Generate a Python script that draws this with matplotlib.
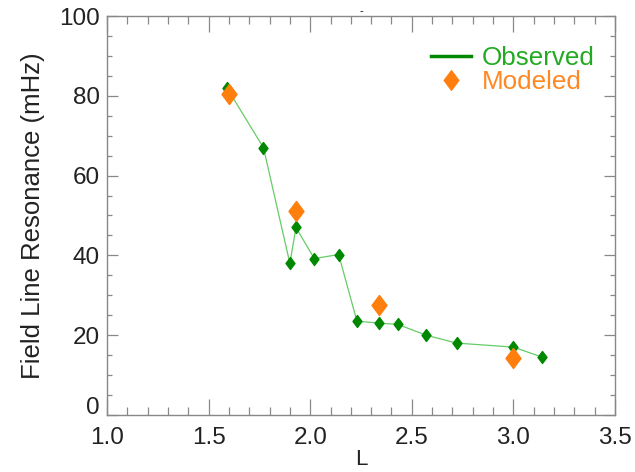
import matplotlib
matplotlib.use("Agg")
import matplotlib.pyplot as plt
from matplotlib.path import Path
from matplotlib.lines import Line2D
from matplotlib.transforms import ScaledTranslation

obs_L = [1.59, 1.77, 1.90, 1.93, 2.02, 2.14, 2.23, 2.34, 2.43, 2.57, 2.72, 3.00, 3.14]
obs_f = [82.0, 67.0, 38.0, 47.0, 39.2, 40.2, 23.5, 23.0, 22.7, 20.0, 18.0, 17.0, 14.5]
mod_L = [1.60, 1.93, 2.34, 3.00]
mod_f = [80.5, 51.0, 27.5, 14.3]
xticks = [1.0, 1.5, 2.0, 2.5, 3.0, 3.5]
yticks = [0, 20, 40, 60, 80, 100]

plt.rcParams['font.family'] = ['Liberation Sans', 'DejaVu Sans']

diamond = Path([(0, 1), (0.75, 0), (0, -1), (-0.75, 0), (0, 1)],
               [Path.MOVETO, Path.LINETO, Path.LINETO, Path.LINETO, Path.CLOSEPOLY])

fig = plt.figure(figsize=(6.35, 4.72), dpi=100)
ax = fig.add_axes([0.1685, 0.121, 0.8, 0.845])

ax.plot(obs_L, obs_f, color='#66cc66', lw=0.9, zorder=2)
ax.plot(obs_L, obs_f, ls='none', marker=diamond, ms=8.6, color='#008800',
        mec='#008800', zorder=3)
ax.plot(mod_L, mod_f, ls='none', marker=diamond, ms=14.4, color='#ff7f0e',
        mec='#ff7f0e', zorder=4)

ax.set_xlim(1.0, 3.5)
ax.set_ylim(0, 100)
ax.set_xticks(xticks)
ax.set_xticklabels([f"{v:.1f}" for v in xticks])
ax.set_yticks(yticks)
ax.set_yticklabels([str(v) for v in yticks])
ax.set_xticks([1.0 + 0.1 * i for i in range(26)], minor=True)
ax.set_yticks([5 * i for i in range(21)], minor=True)

gc = '#888888'
for s in ax.spines.values():
    s.set_color(gc)
    s.set_linewidth(1.0)
ax.tick_params(axis='x', which='major', direction='in', length=11.5, width=0.9,
               color=gc, top=True, labelsize=17.5, pad=9, labelcolor='#222222')
ax.tick_params(axis='x', which='minor', direction='in', length=5.8, width=0.9,
               color=gc, top=True)
ax.tick_params(axis='y', which='major', direction='in', length=8, width=0.9,
               color=gc, right=True, labelsize=17.5, pad=5, labelcolor='#222222')
ax.tick_params(axis='y', which='minor', direction='in', length=3.6, width=0.9,
               color=gc, right=True)

# the "0" label sits a little above its tick in the reference
fig.canvas.draw()
lbl0 = ax.get_yticklabels()[0]
lbl0.set_transform(lbl0.get_transform() + ScaledTranslation(0, 9 / 100, fig.dpi_scale_trans))

ax.set_ylabel('Field Line Resonance (mHz)', fontsize=18.5, color='#222222', labelpad=10)
ax.set_xlabel('L', fontsize=16, color='#222222', labelpad=0)
ax.set_title('-', fontsize=8, pad=1)

handles = [Line2D([], [], color='#008800', lw=2.5),
           Line2D([], [], ls='none', marker=diamond, ms=14, color='#ff7f0e')]
leg = ax.legend(handles, ['Observed', 'Modeled'], loc='upper right',
                bbox_to_anchor=(0.996, 0.97), frameon=False, fontsize=18.7,
                handlelength=1.55, handletextpad=0.42, labelspacing=0.0,
                borderaxespad=0.3)
for t, c in zip(leg.get_texts(), ['#22aa22', '#ff8822']):
    t.set_color(c)

fig.savefig('out.png', dpi=100)
